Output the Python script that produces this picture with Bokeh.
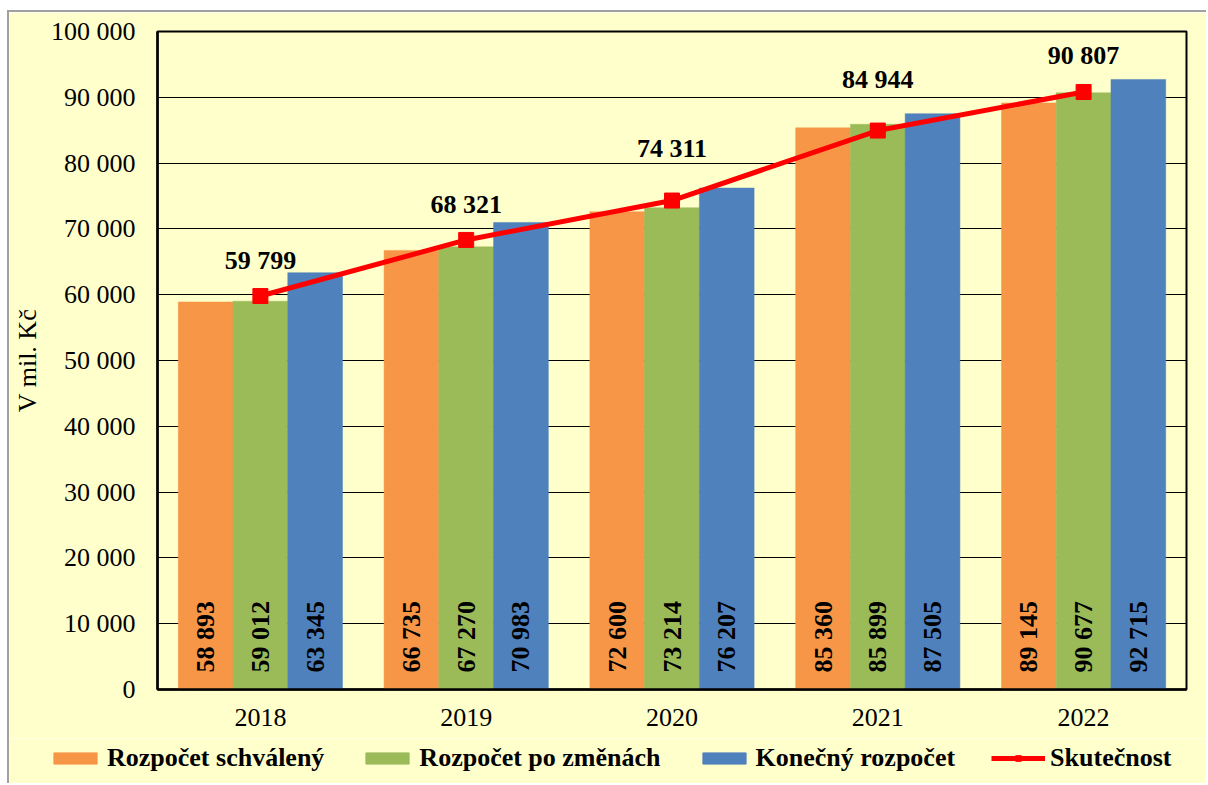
import math
from bokeh.plotting import figure
from bokeh.models import (ColumnDataSource, FixedTicker, Legend, LegendItem, Range1d)
from bokeh.transform import dodge
from bokeh.core.properties import value
from bokeh.embed import file_html
from bokeh.resources import INLINE

years = ["2018", "2019", "2020", "2021", "2022"]
schvaleny = [58893, 66735, 72600, 85360, 89145]
po_zmenach = [59012, 67270, 73214, 85899, 90677]
konecny = [63345, 70983, 76207, 87505, 92715]
skutecnost = [59799, 68321, 74311, 84944, 90807]
y_ticks = [0, 10000, 20000, 30000, 40000, 50000, 60000, 70000, 80000, 90000, 100000]

series_names = ["Rozpočet schválený", "Rozpočet po změnách", "Konečný rozpočet", "Skutečnost"]

# label placement (pixels above the marker), styling
act_label_lift = [36, 35, 52, 51, 36]
colors = ["#F79646", "#9BBB59", "#4F81BD"]
RED = "#FF0000"
BG = "#FFFFCC"
FONT = "Liberation Serif"


def fmt(v):
    return f"{v:,}".replace(",", " ")


src = ColumnDataSource(dict(
    year=years,
    s=schvaleny, z=po_zmenach, k=konecny, act=skutecnost,
    s_lab=[fmt(v) for v in schvaleny],
    z_lab=[fmt(v) for v in po_zmenach],
    k_lab=[fmt(v) for v in konecny],
    act_lab=[fmt(v) for v in skutecnost],
    act_off=[-v for v in act_label_lift],
    zero=[0] * len(years),
))

p = figure(x_range=years, y_range=Range1d(0, 100000), width=1199, height=728,
           output_backend="svg", toolbar_location=None,
           min_border_left=145, min_border_right=22, min_border_top=19, min_border_bottom=51)
p.styles = {"margin-left": "7px", "margin-top": "10px",
            "border-left": "2px solid #A0A0A0", "border-top": "2px solid #A0A0A0"}

p.background_fill_color = BG
p.border_fill_color = BG
p.outline_line_color = "black"
p.outline_line_width = 2

bw = 0.266
offsets = [-bw, 0.0, bw]
fields = ["s", "z", "k"]
for f, off, c in zip(fields, offsets, colors):
    p.vbar(x=dodge("year", off, range=p.x_range), top=f, width=bw, source=src,
           fill_color=c, line_color=c, line_width=0.5)
    p.text(x=dodge("year", off, range=p.x_range), y="zero", text=f + "_lab", source=src,
           angle=math.pi / 2, text_align="left", text_baseline="middle",
           y_offset=-17, text_font=value(FONT), text_font_style="bold",
           text_font_size="26px", text_color="black")

p.line(x="year", y="act", source=src, line_color=RED, line_width=5)
p.scatter(x="year", y="act", source=src, marker="square", size=15,
          fill_color=RED, line_color=RED)
p.text(x="year", y="act", text="act_lab", source=src, text_align="center",
       text_baseline="alphabetic", y_offset="act_off", text_font=value(FONT),
       text_font_style="bold", text_font_size="26px", text_color="black")

# axes
p.xgrid.grid_line_color = None
p.ygrid.grid_line_color = "black"
p.ygrid.grid_line_width = 1
p.yaxis.ticker = FixedTicker(ticks=y_ticks)
p.yaxis.major_label_overrides = {t: fmt(t) for t in y_ticks}
for ax in (p.xaxis[0], p.yaxis[0]):
    ax.major_tick_in = 0
    ax.major_tick_out = 0
    ax.minor_tick_in = 0
    ax.minor_tick_out = 0
    ax.axis_line_color = "black"
    ax.axis_line_width = 2.5
    ax.major_label_text_font = FONT
    ax.major_label_text_font_size = "26px"
    ax.major_label_text_color = "black"
p.yaxis.major_label_standoff = 22
p.xaxis.major_label_standoff = 19
p.yaxis.axis_label = "V mil. Kč"
p.yaxis.axis_label_text_font = FONT
p.yaxis.axis_label_text_font_size = "26px"
p.yaxis.axis_label_text_font_style = "normal"
p.yaxis.axis_label_text_color = "black"
p.yaxis.axis_label_standoff = 6

# legend strip below the chart: a separate root, its frame spans its whole width
lg = figure(width=1199, height=45, output_backend="svg", toolbar_location=None,
            x_axis_location=None, y_axis_location=None,
            x_range=Range1d(1, 2), y_range=Range1d(1, 2),
            min_border_left=0, min_border_right=0, min_border_top=0, min_border_bottom=0)
lg.styles = {"margin-left": "7px", "border-left": "2px solid #A0A0A0"}
lg.background_fill_color = BG
lg.border_fill_color = BG
lg.outline_line_color = None
lg.grid.grid_line_color = None
dummy = ColumnDataSource(dict(x=[0], y=[0]))  # outside the visible range, legend only
leg_r = [lg.vbar(x="x", top="y", width=0.1, source=dummy, fill_color=c, line_color=c)
         for c in colors]
leg_ln = lg.line(x="x", y="y", source=dummy, line_color=RED, line_width=5)
leg_mk = lg.scatter(x="x", y="y", source=dummy, marker="square", size=15,
                    fill_color=RED, line_color=RED)
items = [LegendItem(label=series_names[i], renderers=[leg_r[i]]) for i in range(3)]
items.append(LegendItem(label=series_names[3], renderers=[leg_ln, leg_mk]))
leg = Legend(items=items, orientation="horizontal", location=(39, 10),
             glyph_width=54, glyph_height=14, label_standoff=5, spacing=36,
             padding=0, margin=0, border_line_alpha=0, background_fill_alpha=0,
             label_text_font=FONT, label_text_font_size="26px",
             label_text_font_style="bold", label_text_color="black")
lg.add_layout(leg, "center")

open("out.html", "w").write(file_html([p, lg], INLINE))
